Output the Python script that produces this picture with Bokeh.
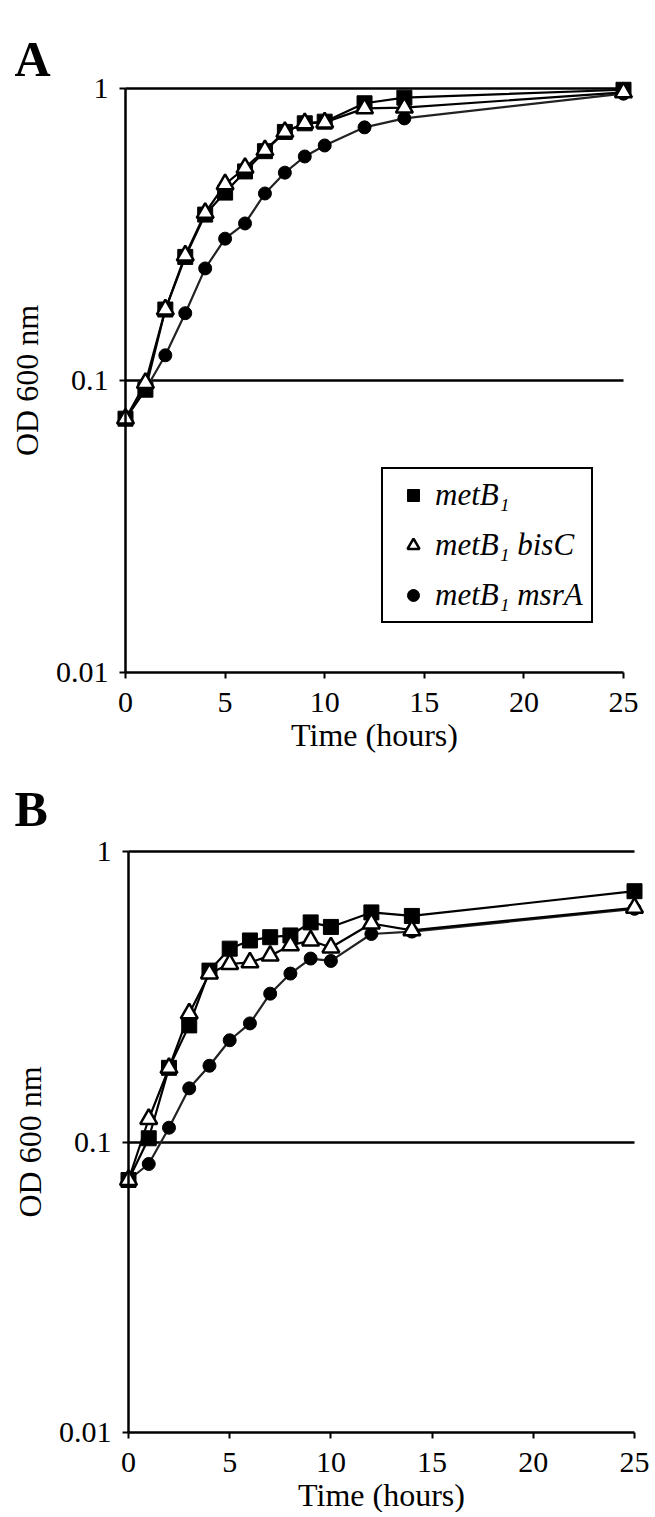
from bokeh.plotting import figure
from bokeh.models import (Range1d, FixedTicker, CustomJSTickFormatter, Legend,
                          LegendItem, Label)
from bokeh.layouts import column
from bokeh.embed import file_html
from bokeh.resources import INLINE

# ---------------- data ----------------
hours = [0, 1, 2, 3, 4, 5, 6, 7, 8, 9, 10, 12, 14, 25]

a_metB1 = [0.074, 0.093, 0.175, 0.265, 0.37, 0.44, 0.52, 0.61, 0.71, 0.76, 0.77, 0.89, 0.93, 0.99]
a_bisC = [0.074, 0.098, 0.175, 0.268, 0.375, 0.47, 0.535, 0.615, 0.71, 0.76, 0.765, 0.855, 0.86, 0.97]
a_msrA = [0.074, 0.093, 0.122, 0.17, 0.242, 0.306, 0.345, 0.437, 0.515, 0.585, 0.638, 0.736, 0.79, 0.96]

b_metB1 = [0.074, 0.103, 0.18, 0.252, 0.389, 0.463, 0.494, 0.507, 0.514, 0.57, 0.55, 0.617, 0.60, 0.73]
b_bisC = [0.074, 0.12, 0.18, 0.277, 0.38, 0.41, 0.415, 0.438, 0.475, 0.494, 0.467, 0.565, 0.535, 0.64]
b_msrA = [0.074, 0.084, 0.112, 0.153, 0.183, 0.224, 0.256, 0.324, 0.38, 0.428, 0.42, 0.52, 0.53, 0.635]

series_labels = ["metB\u2081", "metB\u2081 bisC", "metB\u2081 msrA"]
panel_letters = ["A", "B"]
x_ticks = [0, 5, 10, 15, 20, 25]
y_ticks = [0.01, 0.1, 1]
grid_ticks = [0.1, 1]
x_title = "Time (hours)"
y_title = "OD 600 nm"

FONT = "Liberation Serif"
FS = "30px"
FS_TITLE = "32px"


def make_panel(letter, metB1, bisC, msrA, geo, with_legend):
    # geometry (canvas pixels): x0/x25 = pixel of 0 h and 25 h,
    # y1 = pixel of OD 1, dec = pixels per decade; frame fills the canvas
    fw, fh = geo["fw"], geo["fh"]
    pph = (geo["x25"] - geo["x0"]) / 25.0
    x_start = -geo["x0"] / pph
    x_end = (fw - geo["x0"]) / pph
    y_end = 10 ** (geo["y1"] / geo["dec"])
    y_start = 10 ** (-(fh - geo["y1"]) / geo["dec"])

    p = figure(output_backend="svg", toolbar_location=None,
               y_axis_type="log",
               x_range=Range1d(x_start, x_end), y_range=Range1d(y_start, y_end),
               frame_width=fw, frame_height=fh,
               min_border_left=0, min_border_right=0,
               min_border_top=0, min_border_bottom=0,
               background_fill_color="white", border_fill_color="white")
    p.outline_line_color = None
    p.xgrid.visible = False
    p.ygrid.ticker = FixedTicker(ticks=grid_ticks)
    p.ygrid.grid_line_color = "black"
    p.ygrid.grid_line_width = 2.5
    p.ygrid.cross_bounds = (0, 25)

    # axes (drawn at data 0 h / OD 0.01, inside the frame)
    p.xaxis.ticker = FixedTicker(ticks=x_ticks)
    p.xaxis.bounds = (x_ticks[0], x_ticks[-1])
    p.xaxis.fixed_location = y_ticks[0]
    p.yaxis.ticker = FixedTicker(ticks=y_ticks, minor_ticks=[])
    p.yaxis.formatter = CustomJSTickFormatter(code="return tick.toString()")
    p.yaxis.bounds = (y_ticks[0], y_ticks[-1])
    p.yaxis.fixed_location = x_ticks[0]
    for ax in (p.xaxis, p.yaxis):
        ax.axis_line_color = "black"
        ax.axis_line_width = 2.5
        ax.major_tick_line_color = "black"
        ax.major_tick_line_width = 2
        ax.major_tick_out = 6
        ax.major_tick_in = 0
        ax.minor_tick_line_color = None
        ax.major_label_text_font = FONT
        ax.major_label_text_font_size = FS
        ax.major_label_text_color = "black"
        ax.axis_label_text_font = FONT
        ax.axis_label_text_font_size = FS_TITLE
        ax.axis_label_text_font_style = "normal"
        ax.axis_label_text_color = "black"
    p.xaxis.axis_label = x_title
    p.yaxis.axis_label = y_title
    p.xaxis.major_label_standoff = 14
    p.xaxis.axis_label_standoff = 2
    p.yaxis.major_label_standoff = 11
    p.yaxis.axis_label_standoff = 8

    # lines
    for ys, col in ((msrA, "#222222"), (metB1, "black"), (bisC, "black")):
        p.line(hours, ys, line_color=col, line_width=2.2)

    r_c = p.scatter(hours, msrA, marker="circle", size=13,
                    fill_color="black", line_color="black", line_width=1)
    r_s = p.scatter(hours, metB1, marker="square", size=15,
                    fill_color="black", line_color="black", line_width=1)
    r_t = p.scatter(hours, bisC, marker="triangle", size=17,
                    fill_color="white", line_color="black", line_width=2.5)

    if with_legend:
        legend = Legend(items=[LegendItem(label=series_labels[0], renderers=[r_s]),
                               LegendItem(label=series_labels[1], renderers=[r_t]),
                               LegendItem(label=series_labels[2], renderers=[r_c])],
                        location=geo["leg"], margin=0, padding=8, spacing=14,
                        glyph_height=30, glyph_width=44, label_height=30,
                        label_standoff=0,
                        border_line_color="black", border_line_width=2.5,
                        border_line_alpha=1,
                        background_fill_color="white", background_fill_alpha=1,
                        label_text_font=FONT, label_text_font_size="31px",
                        label_text_font_style="italic",
                        label_text_color="black")
        p.add_layout(legend)

    # panel letter, placed from canvas pixel position (left, baseline)
    lx_px, ly_px = geo["letter"]
    lx = (lx_px - geo["x0"]) / pph
    ly = 10 ** ((geo["y1"] - ly_px) / geo["dec"])
    p.add_layout(Label(x=lx, y=ly, text=letter, text_font=FONT,
                       text_font_size="50px", text_font_style="bold",
                       text_color="black", text_baseline="alphabetic",
                       text_align="left"))
    return p


geo_a = dict(fw=652, fh=760, x0=125, x25=623, y1=88, dec=292,
             leg=(381, 137), letter=(14, 58))
geo_b = dict(fw=652, fh=752, x0=128, x25=634, y1=91, dec=290.5,
             letter=(14, 48))

pa = make_panel(panel_letters[0], a_metB1, a_bisC, a_msrA, geo_a, True)
pb = make_panel(panel_letters[1], b_metB1, b_bisC, b_msrA, geo_b, False)

layout = column(pa, pb, spacing=0)
open("out.html", "w").write(file_html(layout, INLINE))
